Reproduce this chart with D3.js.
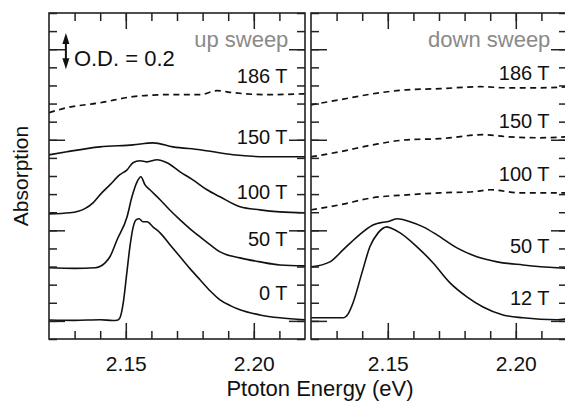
<!DOCTYPE html>
<html><head><meta charset="utf-8">
<script src="https://cdn.jsdelivr.net/npm/d3@7"></script>
<style>body{margin:0;background:#fff} svg{display:block}</style>
</head><body><svg id="c" width="565" height="401"></svg>
<script>
// ---------- data ----------
const upLabels = ["186 T","150 T","100 T","50 T","0 T"];
const downLabels = ["186 T","150 T","100 T","50 T","12 T"];
const sweepTitles = ["up sweep","down sweep"];
const xTickValues = [2.13,2.14,2.15,2.16,2.17,2.18,2.19,2.20,2.21];
const xMajorTicks = [2.15,2.20];
const xTickLabels = ["2.15","2.20"];
const yTickValues = [-0.1,0,0.1,0.2,0.3,0.4,0.5,0.6,0.7,0.8,0.9,1.0,1.1,1.2,1.3,1.4,1.5,1.6,1.7];
const yMajorTicks = [0,0.5,1.0,1.5];
const scaleBarOD = 0.2;

const up0 = [[2.1200,0.005],[2.1300,0.003],[2.1400,0.006],[2.1450,0.002],[2.1466,0.004],[2.1477,0.017],[2.1490,0.099],[2.1504,0.265],[2.1516,0.409],[2.1529,0.519],[2.1540,0.558],[2.1552,0.564],[2.1567,0.547],[2.1583,0.547],[2.1606,0.519],[2.1634,0.486],[2.1670,0.425],[2.1712,0.354],[2.1750,0.290],[2.1790,0.227],[2.1830,0.165],[2.1868,0.116],[2.1910,0.083],[2.1946,0.061],[2.2024,0.033],[2.2102,0.017],[2.2200,0.006]];
const up50 = [[2.1200,0.293],[2.1300,0.290],[2.1380,0.293],[2.1399,0.300],[2.1420,0.322],[2.1438,0.354],[2.1466,0.448],[2.1505,0.575],[2.1524,0.685],[2.1544,0.768],[2.1559,0.796],[2.1575,0.751],[2.1594,0.724],[2.1634,0.669],[2.1670,0.615],[2.1712,0.558],[2.1750,0.510],[2.1790,0.464],[2.1830,0.420],[2.1868,0.381],[2.1946,0.348],[2.2024,0.326],[2.2102,0.309],[2.2200,0.304]];
const up100 = [[2.1200,0.591],[2.1282,0.597],[2.1340,0.620],[2.1372,0.652],[2.1399,0.696],[2.1438,0.751],[2.1477,0.807],[2.1505,0.834],[2.1528,0.873],[2.1555,0.884],[2.1583,0.878],[2.1622,0.890],[2.1661,0.873],[2.1712,0.823],[2.1762,0.779],[2.1817,0.724],[2.1868,0.685],[2.1946,0.630],[2.2024,0.613],[2.2102,0.602],[2.2200,0.597]];
const up150 = [[2.1200,0.917],[2.1270,0.934],[2.1399,0.961],[2.1528,0.972],[2.1606,0.983],[2.1684,0.961],[2.1790,0.945],[2.1919,0.917],[2.2052,0.906],[2.2200,0.906]];
const up186 = [[2.1200,1.150],[2.1270,1.177],[2.1399,1.204],[2.1528,1.238],[2.1661,1.249],[2.1790,1.249],[2.1856,1.271],[2.1919,1.260],[2.2052,1.249],[2.2200,1.254]];

const down12 = [[2.1200,0.017],[2.1325,0.017],[2.1345,0.039],[2.1364,0.099],[2.1399,0.265],[2.1430,0.409],[2.1462,0.486],[2.1497,0.519],[2.1509,0.514],[2.1548,0.486],[2.1614,0.409],[2.1677,0.320],[2.1743,0.210],[2.1809,0.133],[2.1872,0.077],[2.1950,0.033],[2.2028,0.017],[2.2161,0.006],[2.2200,0.011]];
const down50 = [[2.1200,0.298],[2.1274,0.326],[2.1325,0.392],[2.1380,0.464],[2.1442,0.530],[2.1509,0.552],[2.1536,0.564],[2.1587,0.547],[2.1638,0.519],[2.1692,0.475],[2.1770,0.403],[2.1848,0.354],[2.1927,0.326],[2.2028,0.309],[2.2161,0.293],[2.2200,0.290]];
const down100 = [[2.1200,0.613],[2.1313,0.641],[2.1442,0.680],[2.1575,0.696],[2.1704,0.707],[2.1833,0.713],[2.1899,0.724],[2.2016,0.707],[2.2161,0.707],[2.2200,0.707]];
const down150 = [[2.1200,0.906],[2.1313,0.934],[2.1442,0.972],[2.1575,1.000],[2.1704,1.006],[2.1872,1.028],[2.1966,1.017],[2.2095,1.011],[2.2200,1.017]];
const down186 = [[2.1200,1.193],[2.1313,1.221],[2.1442,1.254],[2.1575,1.276],[2.1704,1.282],[2.1860,1.293],[2.1966,1.287],[2.2095,1.287],[2.2200,1.293]];

// label vertical positions (OD units) — layout only
const upLabelY = [1.314,0.977,0.673,0.414,0.115];
const downLabelY = [1.331,1.066,0.773,0.375,0.088];

// ---------- layout ----------
const svg = d3.select("#c");
const FONT = "'Liberation Sans', Arial, Helvetica, sans-serif";
const yTop = 13, yBottom = 339;
const panels = [
  {x0:49, x1:305, series:[up0,up50,up100,up150,up186], dashed:[false,false,false,false,true], labels:upLabels, labelY:upLabelY, title:sweepTitles[0]},
  {x0:311, x1:567, series:[down12,down50,down100,down150,down186], dashed:[false,false,true,true,true], labels:downLabels, labelY:downLabelY, title:sweepTitles[1]}
];

const y = d3.scaleLinear().domain([-0.1,1.7]).range([yBottom, yTop]);

panels.forEach((p, i) => {
  const x = d3.scaleLinear().domain([2.12,2.22]).range([p.x0, p.x1]);
  const g = svg.append("g");
  const clipId = "clip" + i;
  svg.append("clipPath").attr("id", clipId).append("rect")
    .attr("x", p.x0).attr("y", yTop).attr("width", p.x1 - p.x0).attr("height", yBottom - yTop);

  const line = d3.line().x(d => x(d[0])).y(d => y(d[1])).curve(d3.curveMonotoneX);
  const lg = g.append("g").attr("clip-path", `url(#${clipId})`);
  p.series.forEach((s, k) => {
    lg.append("path").datum(s).attr("d", line)
      .attr("fill", "none").attr("stroke", "#111")
      .attr("stroke-width", p.dashed[k] ? 1.7 : 1.6)
      .attr("stroke-dasharray", p.dashed[k] ? "6,4.5" : null)
      .attr("stroke-linejoin", "round");
  });

  const styleAxis = sel => {
    sel.select(".domain").remove();
    sel.selectAll(".tick line").attr("stroke", "#222").attr("stroke-width", 1.5);
  };
  // bottom axis
  g.append("g").attr("transform", `translate(0,${yBottom})`)
    .call(d3.axisBottom(x).tickValues(xTickValues).tickSize(-8).tickFormat("")).call(styleAxis);
  g.append("g").attr("transform", `translate(0,${yBottom})`)
    .call(d3.axisBottom(x).tickValues(xMajorTicks).tickSize(-16).tickPadding(17)
      .tickFormat((d, j) => xTickLabels[j])).call(styleAxis)
    .selectAll("text").attr("font-family", FONT).attr("font-size", 21).attr("fill", "#111");
  // top axis
  g.append("g").attr("transform", `translate(0,${yTop})`)
    .call(d3.axisTop(x).tickValues(xTickValues).tickSize(-8).tickFormat("")).call(styleAxis);
  g.append("g").attr("transform", `translate(0,${yTop})`)
    .call(d3.axisTop(x).tickValues(xMajorTicks).tickSize(-16).tickFormat("")).call(styleAxis);
  // left/right axes
  [[d3.axisLeft, p.x0],[d3.axisRight, p.x1]].forEach(([ax, xp]) => {
    g.append("g").attr("transform", `translate(${xp},0)`)
      .call(ax(y).tickValues(yTickValues).tickSize(-8).tickFormat("")).call(styleAxis);
    g.append("g").attr("transform", `translate(${xp},0)`)
      .call(ax(y).tickValues(yMajorTicks).tickSize(-16).tickFormat("")).call(styleAxis);
  });
  // frame
  g.append("rect").attr("x", p.x0).attr("y", yTop).attr("width", p.x1 - p.x0).attr("height", yBottom - yTop)
    .attr("fill", "none").attr("stroke", "#222").attr("stroke-width", 1.6);

  // labels
  p.labels.forEach((t, k) => {
    g.append("text").attr("x", x(2.2132)).attr("y", y(p.labelY[k]))
      .attr("text-anchor", "end").attr("font-family", FONT).attr("font-size", 20).attr("fill", "#111").text(t);
  });
  g.append("text").attr("x", x(2.2135)).attr("y", y(1.513))
    .attr("text-anchor", "end").attr("font-family", FONT).attr("font-size", 22).attr("fill", "#8a8a8a").text(p.title);

  if (i === 0) {
    // O.D. scale bar
    const ax = x(2.1266), ya = y(1.39), yb = y(1.39 + scaleBarOD);
    const ag = g.append("g");
    ag.append("line").attr("x1", ax).attr("x2", ax).attr("y1", yb + 8).attr("y2", ya - 8)
      .attr("stroke", "#111").attr("stroke-width", 2);
    ag.append("path").attr("d", `M${ax},${yb} L${ax-3.5},${yb+11} L${ax+3.5},${yb+11} Z`).attr("fill", "#111");
    ag.append("path").attr("d", `M${ax},${ya} L${ax-3.5},${ya-11} L${ax+3.5},${ya-11} Z`).attr("fill", "#111");
    g.append("text").attr("x", ax + 8).attr("y", y(1.408)).attr("font-family", FONT)
      .attr("font-size", 22).attr("fill", "#111").text("O.D. = " + scaleBarOD);
  }
});

// axis titles
svg.append("text").attr("x", 320).attr("y", 396).attr("text-anchor", "middle")
  .attr("font-family", FONT).attr("font-size", 22).attr("fill", "#111").text("Ptoton Energy (eV)");
svg.append("text").attr("transform", "translate(28,176) rotate(-90)").attr("text-anchor", "middle")
  .attr("font-family", FONT).attr("font-size", 21).attr("fill", "#111").text("Absorption");
</script></body></html>
